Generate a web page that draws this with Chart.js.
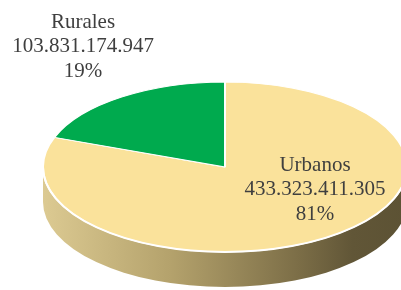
<!DOCTYPE html>
<html>
<head>
<meta charset="utf-8">
<script src="https://cdn.jsdelivr.net/npm/chart.js@4/dist/chart.umd.min.js"></script>
<style>
  html, body { margin: 0; padding: 0; background: #fff; }
  #wrap { width: 401px; height: 290px; overflow: hidden; }
</style>
</head>
<body>
<div id="wrap"><canvas id="pie" width="401" height="290"></canvas></div>
<script>
// data
var labels = ['Urbanos', 'Rurales']
var values = [433323411305, 103831174947]
var colors = ['#FAE29B', '#00AA4E']

var TILT = 0.467   // vertical squash of the top face
var DEPTH = 35     // height of the side wall
var FONT = '21px "Liberation Serif", "Times New Roman", serif'

function fmt(n) {
  return String(n).replace(/\B(?=(\d{3})+(?!\d))/g, '.')
}

var total = values.reduce(function (a, b) { return a + b }, 0)

var tilt = {
  id: 'tilt',
  beforeDatasetsDraw: function (chart) {
    var arc = chart.getDatasetMeta(0).data[0]
    var x = arc.x, y = arc.y, r = arc.outerRadius, ry = r * TILT
    var ctx = chart.ctx
    ctx.save()
    var g = ctx.createLinearGradient(x - r, 0, x + r, 0)
    g.addColorStop(0, '#DCCA92')
    g.addColorStop(0.35, '#B4A26C')
    g.addColorStop(0.7, '#7C6E47')
    g.addColorStop(0.85, '#615637')
    g.addColorStop(1, '#5C5234')
    ctx.beginPath()
    ctx.ellipse(x, y, r, ry, 0, 0, Math.PI)
    ctx.ellipse(x, y + DEPTH, r, ry, 0, Math.PI, 0, true)
    ctx.closePath()
    ctx.fillStyle = g
    ctx.fill()
    ctx.restore()
    ctx.save()
    ctx.translate(x, y)
    ctx.scale(1, TILT)
    ctx.translate(-x, -y)
  },
  afterDatasetsDraw: function (chart) {
    var ctx = chart.ctx
    ctx.restore()
    var arc = chart.getDatasetMeta(0).data[0]
    ctx.save()
    ctx.beginPath()
    ctx.ellipse(arc.x, arc.y, arc.outerRadius, arc.outerRadius * TILT, 0, 0, Math.PI)
    ctx.strokeStyle = '#ffffff'
    ctx.lineWidth = 2
    ctx.stroke()
    ctx.restore()
  }
}

var pieLabels = {
  id: 'pieLabels',
  afterDraw: function (chart) {
    var ctx = chart.ctx
    var spots = [[315, 165], [83, 22]]
    ctx.save()
    ctx.font = FONT
    ctx.fillStyle = '#3F3F3F'
    ctx.textAlign = 'center'
    ctx.textBaseline = 'middle'
    labels.forEach(function (lab, i) {
      var p = spots[i]
      var pct = Math.round(values[i] / total * 100) + '%'
      ctx.fillText(lab, p[0], p[1])
      ctx.fillText(fmt(values[i]), p[0], p[1] + 24.5)
      ctx.fillText(pct, p[0], p[1] + 49)
    })
    ctx.restore()
  }
}

var ctx = document.getElementById('pie').getContext('2d')
new Chart(ctx, {
  type: 'pie',
  data: {
    labels: labels,
    datasets: [{
      data: values,
      backgroundColor: colors,
      borderColor: '#ffffff',
      borderWidth: 2,
      radius: 182
    }]
  },
  options: {
    responsive: false,
    animation: false,
    layout: { padding: { left: 49, right: 0, top: 44, bottom: 0 } },
    plugins: {
      legend: { display: false },
      tooltip: { enabled: false }
    }
  },
  plugins: [tilt, pieLabels]
})
</script>
</body>
</html>
